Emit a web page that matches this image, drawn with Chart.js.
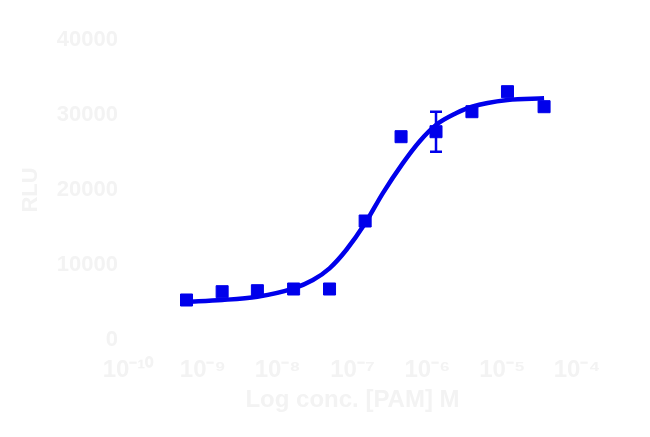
<!DOCTYPE html>
<html>
<head>
<meta charset="utf-8">
<script src="https://cdn.jsdelivr.net/npm/chart.js@4/dist/chart.umd.min.js"></script>
<style>
  html, body { margin: 0; padding: 0; background: #ffffff; }
  #wrap { width: 650px; height: 437px; }
</style>
</head>
<body>
<div id="wrap"><canvas id="doseChart" width="650" height="437"></canvas></div>
<script>
// pontos medidos (expoente da concentração, em M) e resposta
const pointExp = [-9.218, -8.742, -8.271, -7.787, -7.307, -6.831, -6.351, -5.884, -5.404, -4.929, -4.44];
const pointRLU = [5333, 6440, 6573, 6800, 6800, 15867, 27107, 27773, 30440, 33107, 31107];
const pointErr = [0, 0, 0, 0, 0, 0, 0, 2667, 0, 0, 0];

// curva ajustada
const curveExp = [-9.218, -8.742, -8.271, -7.787, -7.529, -7.307, -7.084, -6.831, -6.596, -6.329, -6.107, -5.884, -5.618, -5.404, -4.929, -4.44];
const curveRLU = [5107, 5333, 5778, 6889, 8000, 9556, 12000, 15556, 19556, 23556, 26444, 28667, 30222, 31111, 32000, 32222];

// eixos
const xTickExp = [-10, -9, -8, -7, -6, -5, -4];
const xTickLabels = ['10⁻¹⁰', '10⁻⁹', '10⁻⁸', '10⁻⁷', '10⁻⁶', '10⁻⁵', '10⁻⁴'];
const yTicks = [0, 10000, 20000, 30000, 40000];
const xTitle = 'Log conc. [PAM] M';
const yTitle = 'RLU';

const blue = 'rgb(0, 0, 235)';
const faint = '#f3f3f3';

function toPoints(exps, vals) {
    return exps.map((e, i) => ({ x: Math.pow(10, e), y: vals[i] }));
}

// barras de erro desenhadas com as escalas do gráfico
const errorBars = {
    id: 'errorBars',
    afterDatasetsDraw(chart) {
        const ctx = chart.ctx;
        const xs = chart.scales.x, ys = chart.scales.y;
        ctx.save();
        ctx.strokeStyle = blue;
        ctx.lineWidth = 2.5;
        pointExp.forEach((e, i) => {
            if (!pointErr[i]) return;
            const px = xs.getPixelForValue(Math.pow(10, e));
            const top = ys.getPixelForValue(pointRLU[i] + pointErr[i]);
            const bot = ys.getPixelForValue(pointRLU[i] - pointErr[i]);
            ctx.beginPath();
            ctx.moveTo(px, top); ctx.lineTo(px, bot);
            ctx.moveTo(px - 6, top); ctx.lineTo(px + 6, top);
            ctx.moveTo(px - 6, bot); ctx.lineTo(px + 6, bot);
            ctx.stroke();
        });
        ctx.restore();
    }
};

const ctx = document.getElementById('doseChart').getContext('2d');
const chart = new Chart(ctx, {
    type: 'scatter',
    data: {
        datasets: [
            {
                label: 'curva',
                data: toPoints(curveExp, curveRLU),
                showLine: true,
                borderColor: blue,
                borderWidth: 4.5,
                pointRadius: 0,
                cubicInterpolationMode: 'monotone',
                fill: false
            },
            {
                label: 'dados',
                data: toPoints(pointExp, pointRLU),
                pointStyle: 'rect',
                pointRadius: 8.5,
                backgroundColor: blue,
                borderColor: blue,
                borderWidth: 1
            }
        ]
    },
    options: {
        responsive: false,
        animation: false,
        layout: { padding: { top: 40, right: 73, left: 18, bottom: 22 } },
        plugins: {
            legend: { display: false },
            tooltip: { enabled: false }
        },
        scales: {
            x: {
                type: 'logarithmic',
                min: 1e-10,
                max: 1e-4,
                grid: { display: false, drawTicks: false },
                border: { color: '#ffffff' },
                afterBuildTicks(scale) {
                    scale.ticks = xTickExp.map(e => ({ value: Math.pow(10, e) }));
                },
                afterFit(scale) { scale.height = 75; },
                ticks: {
                    color: faint,
                    padding: 16,
                    font: { family: 'Liberation Sans, Arial', size: 24, weight: 'bold' },
                    maxRotation: 0,
                    autoSkip: false,
                    callback(value) {
                        const i = xTickExp.indexOf(Math.round(Math.log10(value)));
                        return i >= 0 ? xTickLabels[i] : '';
                    }
                },
                title: {
                    display: true,
                    text: xTitle,
                    color: faint,
                    padding: { top: 4, bottom: 0 },
                    font: { family: 'Liberation Sans, Arial', size: 24, weight: 'bold' }
                }
            },
            y: {
                min: 0,
                max: 40000,
                grid: { display: false, drawTicks: false },
                border: { color: '#ffffff' },
                afterBuildTicks(scale) {
                    scale.ticks = yTicks.map(v => ({ value: v }));
                },
                afterFit(scale) { scale.width = 110; },
                ticks: {
                    color: faint,
                    padding: 10,
                    font: { family: 'Liberation Sans, Arial', size: 22, weight: 'bold' },
                    callback(value) { return String(value); }
                },
                title: {
                    display: true,
                    text: yTitle,
                    color: faint,
                    padding: 0,
                    font: { family: 'Liberation Sans, Arial', size: 22, weight: 'bold' }
                }
            }
        }
    },
    plugins: [errorBars]
});
</script>
</body>
</html>
